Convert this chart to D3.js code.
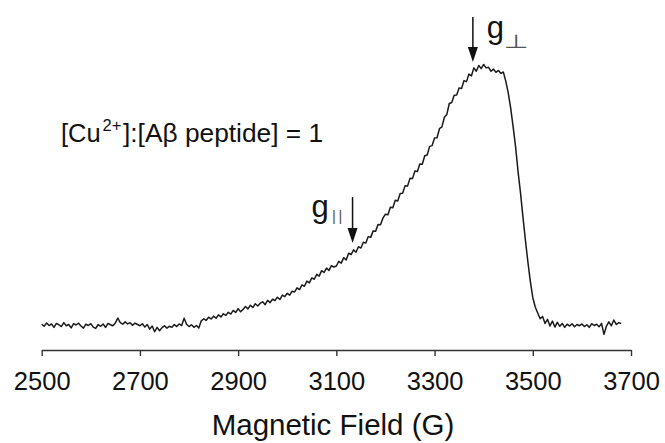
<!DOCTYPE html>
<html>
<head>
<meta charset="utf-8">
<script src="https://cdn.jsdelivr.net/npm/d3@7"></script>
<style>
  body { margin: 0; background: #fff; }
  svg { display: block; font-family: "Liberation Sans", Arial, sans-serif; }
</style>
</head>
<body>
<div id="chart"></div>
<script>
// ------------------------------
// Data
// ------------------------------

// Field sweep of the spectrometer (G): first point and spacing
const fieldStart = 2500;
const fieldStep = 5;

// EPR absorption intensity (a.u.), one value per 5 G, 2500 ... 3680 G
const intensity = [
  // 2500 - 2595
  0.3, -0.5, 0.8, -0.2, 0.4, -0.9, 0.6, 0.1, -0.6, 0.9, -0.3, 0.2, -1.1, 0.5, 0.0, 0.7, -0.4, -1.2, 0.3, -0.2,
  // 2600 - 2695
  0.5, -0.8, -1.3, 0.2, -0.5, 0.4, -0.9, 0.6, 0.1, -0.3, 0.8, 2.7, 0.9, 0.3, 1.2, 0.4, 0.9, -0.1, 0.7, 0.2,
  // 2700 - 2795
  -0.3, 0.5, -0.8, 0.2, -1.6, -0.4, -2.6, -0.9, -2.2, -1.0, -0.3, -1.2, -0.5, -0.9, 0.2, -0.6, 0.4, -0.2, 2.6, 0.3,
  // 2800 - 2895
  -0.6, 0.1, -0.9, -0.2, -1.1, 1.6, 2.4, 1.8, 3.0, 2.3, 3.4, 2.6, 3.9, 3.1, 4.3, 3.7, 4.9, 4.2, 5.6, 4.8,
  // 2900 - 2995
  6.3, 5.1, 6.0, 7.1, 6.2, 7.6, 6.7, 8.2, 7.3, 8.4, 8.9, 7.8, 9.5, 8.6, 9.9, 9.4, 10.7, 9.8, 11.5, 10.9,
  // 3000 - 3095
  12.2, 11.5, 13.0, 12.7, 14.3, 13.6, 15.4, 14.9, 16.9, 16.2, 18.1, 17.6, 19.5, 18.8, 20.9, 20.2, 21.9, 21.0, 22.8, 22.3,
  // 3100 - 3195
  22.7, 24.5, 23.8, 25.9, 25.0, 27.6, 27.1, 28.9, 28.0, 30.1, 29.6, 31.8, 31.5, 34.0, 33.7, 36.2, 36.1, 38.7, 38.6, 41.2,
  // 3200 - 3295
  42.6, 42.4, 45.3, 45.1, 48.0, 47.7, 50.6, 50.7, 53.6, 53.5, 56.4, 56.3, 59.2, 59.0, 61.9, 61.8, 65.1, 65.4, 68.7, 69.0,
  // 3300 - 3395
  71.9, 72.0, 75.5, 76.2, 79.9, 81.0, 85.2, 85.6, 88.4, 88.5, 91.2, 91.0, 94.0, 93.6, 96.5, 95.8, 98.9, 97.6, 99.8, 98.6,
  // 3400 - 3495
  100.2, 98.9, 99.1, 97.6, 98.4, 97.2, 97.9, 96.8, 97.3, 93.8, 89.3, 83.4, 76.2, 68.5, 59.0, 50.8, 41.5, 32.6, 24.3, 16.8,
  // 3500 - 3595
  10.6, 6.9, 4.6, 2.4, 3.3, 0.6, 2.2, -0.4, 1.5, -0.8, 1.0, -0.5, 0.6, -0.9, 0.3, -0.4, 0.5, -0.7, 0.2, -0.3,
  // 3600 - 3680
  0.4, -0.6, 0.1, -0.9, 0.5, -0.2, 0.3, -0.7, 0.6, -3.6, -0.4, 1.2, -0.3, 1.9, 0.2, 0.9, 0.6
];

// Axis ticks
const xTicks = [2500, 2700, 2900, 3100, 3300, 3500, 3700];

// g-value markers: field position, arrow top and tip (a.u.)
const gMarkers = [
  { name: "perp", field: 3378, top: 118.5, tip: 101.2 },
  { name: "par", field: 3133, top: 49.2, tip: 31.5 }
];

// ------------------------------
// Chart
// ------------------------------

const width = 665;
const height = 443;

const svg = d3.select("#chart").append("svg").attr("width", width).attr("height", height);

const points = intensity.map((v, i) => ({ field: fieldStart + i * fieldStep, value: v }));

// Scales
const x = d3.scaleLinear().domain([2500, 3700]).range([41.7, 631]);
const y = d3.scaleLinear().domain([0, 100]).range([325, 65]);

// Spectrum trace
const line = d3
  .line()
  .x((d) => x(d.field))
  .y((d) => y(d.value));

svg
  .append("path")
  .datum(points)
  .attr("d", line)
  .attr("fill", "none")
  .attr("stroke", "#1a1a1a")
  .attr("stroke-width", 1.5)
  .attr("stroke-linejoin", "round");

// x axis
const axis = svg
  .append("g")
  .attr("transform", "translate(0,350)")
  .call(d3.axisBottom(x).tickValues(xTicks).tickFormat(d3.format("d")).tickSize(6).tickSizeOuter(0).tickPadding(15.5));

axis.select(".domain").attr("stroke", "#333").attr("stroke-width", 1.4);
axis.selectAll(".tick line").attr("stroke", "#333").attr("stroke-width", 1.4);
axis
  .selectAll(".tick text")
  .attr("fill", "#111")
  .style("font-family", '"Liberation Sans", Arial, sans-serif')
  .style("font-size", "25.5px");

// Axis title
svg
  .append("text")
  .attr("x", 333)
  .attr("y", 435)
  .attr("text-anchor", "middle")
  .attr("fill", "#111")
  .style("font-size", "29.5px")
  .text("Magnetic Field (G)");

// Ratio annotation
const note = svg.append("text").attr("y", 142.3).attr("fill", "#111").style("font-size", "25.5px");
note.append("tspan").attr("x", 61).text("[Cu");
note.append("tspan").attr("x", 102.5).attr("y", 130.7).style("font-size", "16.5px").text("2+");
note.append("tspan").attr("x", 123).attr("y", 142.3).style("font-size", "26.3px").text("]:[A\u03b2 peptide] = 1");

// g-value arrows
gMarkers.forEach((m) => {
  const ax = x(m.field);
  const tip = y(m.tip);
  svg
    .append("line")
    .attr("x1", ax)
    .attr("x2", ax)
    .attr("y1", y(m.top))
    .attr("y2", tip - 8)
    .attr("stroke", "#111")
    .attr("stroke-width", 1.5);
  svg
    .append("path")
    .attr("d", `M${ax - 5},${tip - 15}L${ax + 5},${tip - 15}L${ax},${tip}Z`)
    .attr("fill", "#111");
});

// g-perpendicular label (right of its arrow)
const perp = gMarkers[0];
svg
  .append("text")
  .attr("x", x(perp.field) + 14)
  .attr("y", 38)
  .attr("fill", "#111")
  .style("font-size", "31px")
  .text("g");
svg
  .append("text")
  .attr("transform", `translate(${x(perp.field) + 31},48) scale(1.5,1)`)
  .attr("fill", "#555")
  .style("font-family", '"DejaVu Sans", sans-serif')
  .style("font-size", "19px")
  .text("\u22a5");

// g-parallel label (left of its arrow)
const par = gMarkers[1];
svg
  .append("text")
  .attr("x", x(par.field) - 41)
  .attr("y", 216.8)
  .attr("fill", "#111")
  .style("font-size", "31px")
  .text("g");
svg
  .append("text")
  .attr("transform", `translate(${x(par.field) - 20.5},221) scale(1.05,1)`)
  .attr("fill", "#555")
  .attr("letter-spacing", "2.5px")
  .style("font-size", "14px")
  .text("||");
</script>
</body>
</html>
